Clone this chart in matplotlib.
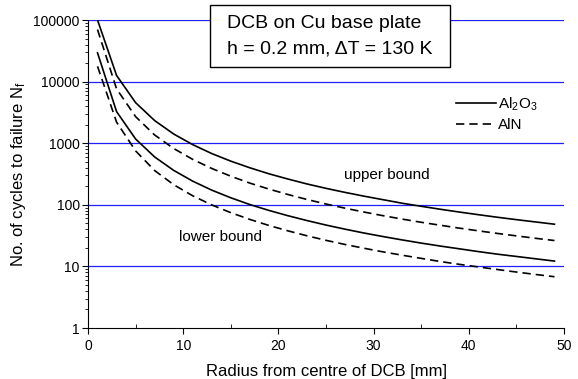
import matplotlib
matplotlib.use('Agg')
import matplotlib.pyplot as plt
import matplotlib.ticker as mticker
from matplotlib.patches import Rectangle

plt.rcParams['font.family'] = ['Liberation Sans', 'DejaVu Sans']
plt.rcParams['mathtext.fontset'] = 'custom'
plt.rcParams['mathtext.rm'] = 'Liberation Sans'
plt.rcParams['mathtext.it'] = 'Liberation Sans'

# radius from centre of DCB [mm]
radius = [1, 3, 5, 7, 9, 11, 13, 15, 17, 19, 21, 23, 25,
          27, 29, 31, 33, 35, 37, 39, 41, 43, 45, 47, 49]

# Al2O3, upper / lower bound
al2o3_upper = [100000, 12600, 4550, 2330, 1410, 948, 679, 511, 399, 319, 262, 218, 185,
               159, 138, 121, 106, 94.6, 84.7, 76.3, 69.1, 62.8, 57.4, 52.7, 48.4]
al2o3_lower = [29300, 3260, 1170, 598, 362, 242, 173, 130, 101, 81.1, 66.5, 55.5, 46.9,
               40.2, 34.8, 30.5, 26.9, 23.9, 21.4, 19.3, 17.4, 15.8, 14.5, 13.3, 12.2]

# AlN, upper / lower bound
aln_upper = [70000, 7620, 2700, 1360, 820, 546, 389, 291, 225, 180, 147, 122, 103,
             88.1, 76.2, 66.5, 58.6, 52.0, 46.6, 41.8, 37.8, 34.3, 31.3, 28.6, 26.3]
aln_lower = [17700, 2200, 750, 360, 212, 140, 99.5, 74.5, 57.9, 46.2, 37.8, 31.4, 26.5,
             22.7, 19.7, 17.2, 15.2, 13.5, 12.0, 10.8, 9.8, 8.9, 8.1, 7.4, 6.8]

decades = [1, 10, 100, 1000, 10000, 100000]

fig = plt.figure(figsize=(5.78, 3.79), dpi=100)
ax = fig.add_axes([88 / 578, 1 - 328 / 379, 476 / 578, 308 / 379])

# blue horizontal grid at each decade
for d in decades[1:]:
    ax.axhline(d, color='#2020ff', lw=0.9, zorder=1)

dash = (0, (5, 3))
ax.plot(radius, al2o3_upper, color='black', lw=1.2, label=r'Al$_\mathregular{2}$O$_\mathregular{3}$', zorder=3)
ax.plot(radius, al2o3_lower, color='black', lw=1.2, zorder=3)
ax.plot(radius, aln_upper, color='black', lw=1.2, ls=dash, label='AlN', zorder=3)
ax.plot(radius, aln_lower, color='black', lw=1.2, ls=dash, zorder=3)

ax.set_yscale('log')
ax.set_xlim(0, 50)
ax.set_ylim(1, 100000)

ax.spines['top'].set_visible(False)
ax.spines['right'].set_visible(False)

ax.set_xticks([0, 10, 20, 30, 40, 50])
ax.xaxis.set_minor_locator(mticker.FixedLocator([5, 15, 25, 35, 45]))
ax.set_yticks(decades)
ax.yaxis.set_major_formatter(mticker.FixedFormatter([str(d) for d in decades]))
ax.yaxis.set_minor_locator(mticker.LogLocator(base=10, subs=range(2, 10)))
ax.yaxis.set_minor_formatter(mticker.NullFormatter())

ax.tick_params(axis='x', which='major', direction='out', length=4, labelsize=10, pad=4)
ax.tick_params(axis='x', which='minor', direction='in', length=3)
ax.tick_params(axis='y', which='major', direction='out', length=4, labelsize=10, pad=2)
ax.tick_params(axis='y', which='minor', direction='out', length=2)

ax.set_xlabel('Radius from centre of DCB [mm]', fontsize=12, labelpad=8)
ax.set_ylabel(r'No. of cycles to failure N$_\mathregular{f}$', fontsize=12)
ax.yaxis.set_label_coords(-0.125, 0.5)

ax.text(31.4, 309, 'upper bound', fontsize=11, ha='center', va='center')
ax.text(13.9, 30, 'lower bound', fontsize=11, ha='center', va='center')

ax.legend(loc='upper left', bbox_to_anchor=(0.758, 0.78), frameon=False,
          fontsize=11, handlelength=2.6, handletextpad=0.15, labelspacing=0.35,
          borderpad=0)

# title box
box = Rectangle((210 / 578, 1 - 67 / 379), 240 / 578, 62 / 379, transform=fig.transFigure,
                facecolor='white', edgecolor='black', lw=1, zorder=5)
fig.add_artist(box)
fig.text(227 / 578, 1 - 24 / 379, 'DCB on Cu base plate', fontsize=14,
         ha='left', va='center', zorder=6)
fig.text(227 / 578, 1 - 49 / 379, 'h = 0.2 mm, \u0394T = 130 K', fontsize=14,
         ha='left', va='center', zorder=6)

fig.savefig('out.png', dpi=100, facecolor='white')
